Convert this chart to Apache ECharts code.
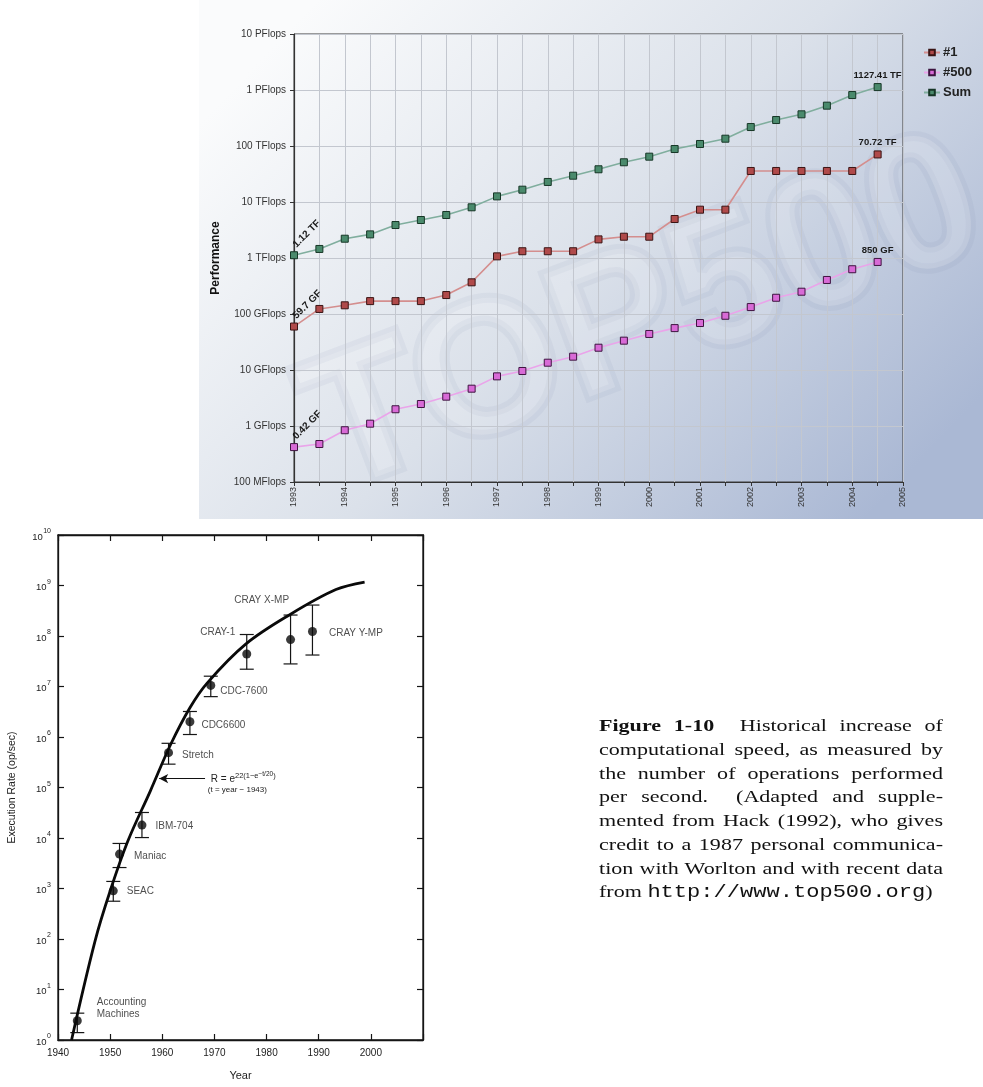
<!DOCTYPE html>
<html>
<head>
<meta charset="utf-8">
<title>Historical increase of computational speed</title>
<script src="https://cdn.jsdelivr.net/npm/echarts@6.0.0/dist/echarts.min.js"></script>
<style>
    body { margin: 0; padding: 0; background: #fff; overflow: hidden; }
    #chart { position: absolute; left: 0; top: 0; width: 983px; height: 1087px; }
    #caption {
        position: absolute; left: 599px; top: 714px; width: 273px;
        transform: scaleX(1.26); transform-origin: 0 0;
        font-family: "Liberation Serif", "Times New Roman", serif;
        font-size: 17.5px; line-height: 23.75px; color: #111;
    }
    #caption div { text-align: justify; text-align-last: justify; }
    #caption div.last { text-align: left; text-align-last: left; }
    #caption .mono { font-family: "Liberation Mono", "Courier New", monospace; }
</style>
</head>
<body>
<div id="chart"></div>
<div id="caption">
    <div><b>Figure 1-10</b>&nbsp; Historical increase of</div>
    <div>computational speed, as measured by</div>
    <div>the number of operations performed</div>
    <div>per second.&nbsp; (Adapted and supple-</div>
    <div>mented from Hack (1992), who gives</div>
    <div>credit to a 1987 personal communica-</div>
    <div>tion with Worlton and with recent data</div>
    <div class="last">from <span class="mono">http://www.top500.org</span>)</div>
</div>
<script>
// ---- TOP500 chart (values in GFlops) ----
const years = [1993, 1993.5, 1994, 1994.5, 1995, 1995.5, 1996, 1996.5, 1997, 1997.5, 1998, 1998.5,
               1999, 1999.5, 2000, 2000.5, 2001, 2001.5, 2002, 2002.5, 2003, 2003.5, 2004, 2004.5];
const rank1 = [59.7, 123, 143, 170, 170, 170, 218, 368, 1070, 1320, 1320, 1320,
               2150, 2400, 2400, 4970, 7290, 7290, 35800, 35800, 35800, 35800, 35800, 70720];
const rank500 = [0.42, 0.477, 0.84, 1.10, 1.99, 2.47, 3.34, 4.64, 7.7, 9.6, 13.5, 17.3,
                 25, 33.4, 44, 56, 69, 93, 133, 195, 250, 405, 630, 850];
const sumPerf = [1120, 1450, 2210, 2640, 3880, 4770, 5860, 8040, 12600, 16600, 22800, 29500,
                 38400, 51200, 64500, 88300, 108600, 135000, 218000, 291000, 368000, 525000, 813000, 1127410];
const seriesNames = ['#1', '#500', 'Sum'];
const firstLabels = ['59.7 GF', '0.42 GF', '1.12 TF'];
const lastLabels = ['70.72 TF', '850 GF', '1127.41 TF'];
const perfTickLabels = ['100 MFlops', '1 GFlops', '10 GFlops', '100 GFlops', '1 TFlops',
                        '10 TFlops', '100 TFlops', '1 PFlops', '10 PFlops'];

// ---- historical machines (op/sec) ----
const machineNames = ['Accounting\nMachines', 'SEAC', 'Maniac', 'IBM-704', 'Stretch',
                      'CDC6600', 'CDC-7600', 'CRAY-1', 'CRAY X-MP', 'CRAY Y-MP'];
const machineYears = [1943.7, 1950.6, 1951.8, 1956.1, 1961.2, 1965.3, 1969.3, 1976.2, 1984.6, 1988.8];
const machineRates = [2.4, 900, 4800, 18000, 4.9e5, 2.0e6, 1.05e7, 4.4e7, 8.5e7, 1.23e8];
const errLow = [1.4, 560, 2600, 10200, 2.9e5, 1.12e6, 6.3e6, 2.2e7, 2.8e7, 4.2e7];
const errHigh = [3.4, 1380, 7800, 32000, 7.5e5, 3.2e6, 1.6e7, 1.07e8, 2.6e8, 4.1e8];
// fitted curve
const curveYears = [1942.6, 1947.1, 1950.0, 1953.4, 1957.7, 1961.6, 1965.3, 1968.6, 1976.0, 1984.6, 1993.3, 1998.8];
const curveRates = [1, 91, 890, 8700, 85000, 7.1e5, 3.8e6, 1.17e7, 6.9e7, 2.7e8, 8.3e8, 1.17e9];

const fills = ['#b04a4a', '#d86ad6', '#4a8a6c'];
const borders = ['#3a1414', '#3e1440', '#163626'];
const lines = ['#d48e8e', '#eaa4ea', '#80ae9e'];

// where each machine label sits relative to its point
const machineLabelPos = {
    'Accounting\nMachines': { position: 'right', offset: [15, -13] },
    'SEAC': { position: 'right', offset: [9, 0] },
    'Maniac': { position: 'right', offset: [10, 2] },
    'IBM-704': { position: 'right', offset: [9, 1] },
    'Stretch': { position: 'right', offset: [9, 3] },
    'CDC6600': { position: 'right', offset: [7, 3] },
    'CDC-7600': { position: 'right', offset: [5, 6] },
    'CRAY-1': { position: 'left', offset: [-7, -22] },
    'CRAY X-MP': { position: 'left', offset: [3, -39] },
    'CRAY Y-MP': { position: 'right', offset: [12, 2] }
};

const chart = echarts.init(document.getElementById('chart'));

const sansFont = '"Liberation Sans", Arial, Helvetica, sans-serif';

function topSeries(vals, idx) {
    return {
        name: seriesNames[idx],
        type: 'line',
        xAxisIndex: 0,
        yAxisIndex: 0,
        symbol: 'rect',
        symbolSize: 7,
        z: 5 + idx,
        itemStyle: { color: fills[idx], borderColor: borders[idx], borderWidth: 1 },
        lineStyle: { color: lines[idx], width: 1.6 },
        emphasis: { disabled: true },
        data: years.map((y, i) => {
            const item = { value: [y, vals[i]] };
            if (i === 0) {
                item.label = {
                    show: true, formatter: firstLabels[idx], position: 'right', distance: 0,
                    offset: [4, -4],
                    rotate: 45, align: 'left', verticalAlign: 'bottom',
                    fontFamily: sansFont, fontWeight: 'bold', fontSize: 10, color: '#1a1a1a'
                };
            }
            if (i === years.length - 1) {
                item.label = {
                    show: true, formatter: lastLabels[idx], position: 'top', distance: 3,
                    fontFamily: sansFont, fontWeight: 'bold', fontSize: 9.5, color: '#1a1a1a'
                };
            }
            return item;
        })
    };
}

const supLabel = {
    base: { fontSize: 9.5, fontFamily: sansFont, color: '#222', lineHeight: 14, verticalAlign: 'bottom' },
    sup: { fontSize: 7, fontFamily: sansFont, color: '#222', lineHeight: 14, verticalAlign: 'top', padding: [0, 0, 0, 0.5] }
};

const option = {
    animation: false,
    graphic: [
        {
            type: 'rect', z: -100, silent: true,
            shape: { x: 199, y: 0, width: 784, height: 519 },
            style: {
                fill: new echarts.graphic.LinearGradient(0.15, 0, 0.85, 1, [
                    { offset: 0, color: '#fafbfc' },
                    { offset: 0.5, color: '#dbe1ea' },
                    { offset: 1, color: '#aab8d4' }
                ])
            }
        },
        {
            type: 'text', z: -90, silent: true,
            x: 645, y: 320, rotation: 0.36,
            style: {
                text: 'TOP500', align: 'center', verticalAlign: 'middle',
                fontSize: 190, fontWeight: 'bold', fontFamily: sansFont,
                fill: 'rgba(255,255,255,0.16)', stroke: 'rgba(120,130,160,0.08)', lineWidth: 10
            }
        }
    ],
    legend: {
        data: seriesNames,
        orient: 'vertical',
        left: 918,
        top: 41,
        itemWidth: 16,
        itemHeight: 7,
        itemGap: 7,
        textStyle: { fontFamily: sansFont, fontWeight: 'bold', fontSize: 13, color: '#222', padding: [0, 0, 0, -2] }
    },
    grid: [
        { left: 294, top: 34, width: 609, height: 448, show: true, borderColor: '#3a3a3a', borderWidth: 1, backgroundColor: 'transparent' },
        { left: 58, top: 535, width: 365, height: 505, show: true, borderColor: '#151515', borderWidth: 1.3, backgroundColor: 'transparent' }
    ],
    xAxis: [
        {
            gridIndex: 0, type: 'value', min: 1993, max: 2005, interval: 0.5,
            axisLine: { lineStyle: { color: '#333', width: 1.2 } },
            axisTick: { show: true, length: 4, lineStyle: { color: '#333' } },
            axisLabel: {
                rotate: 90, margin: 5, fontSize: 9, fontFamily: sansFont, color: '#333',
                formatter: v => (Math.abs(v - Math.round(v)) < 1e-6 ? String(Math.round(v)) : '')
            },
            splitLine: { show: true, lineStyle: { color: '#c3c7cf', width: 1 } }
        },
        {
            gridIndex: 1, type: 'value', min: 1940, max: 2010, interval: 10,
            axisLine: { lineStyle: { color: '#151515', width: 1.3 } },
            axisTick: { show: true, inside: true, length: 6, lineStyle: { color: '#151515', width: 1.2 } },
            axisLabel: {
                margin: 8, fontSize: 10, fontFamily: sansFont, color: '#222',
                formatter: v => (v >= 2010 ? '' : String(v))
            },
            splitLine: { show: false },
            name: 'Year', nameLocation: 'middle', nameGap: 30,
            nameTextStyle: { fontSize: 11, fontFamily: sansFont, color: '#222' }
        },
        {
            gridIndex: 1, type: 'value', min: 1940, max: 2010, interval: 10, position: 'top',
            axisLine: { lineStyle: { color: '#151515', width: 1.3 } },
            axisTick: { show: true, inside: true, length: 6, lineStyle: { color: '#151515', width: 1.2 } },
            axisLabel: { show: false },
            splitLine: { show: false }
        }
    ],
    yAxis: [
        {
            gridIndex: 0, type: 'log', logBase: 10, min: 0.1, max: 1e7, splitNumber: 8,
            axisLine: { show: true, lineStyle: { color: '#333', width: 1.2 } },
            axisTick: { show: true, length: 4, lineStyle: { color: '#333' } },
            axisLabel: {
                margin: 8, fontSize: 10, fontFamily: sansFont, color: '#333',
                formatter: v => perfTickLabels[Math.round(Math.log10(v)) + 1] || ''
            },
            splitLine: { show: true, lineStyle: { color: '#c3c7cf', width: 1 } },
            name: 'Performance', nameLocation: 'middle', nameGap: 72,
            nameTextStyle: { fontSize: 12, fontWeight: 'bold', fontFamily: sansFont, color: '#111' }
        },
        {
            gridIndex: 1, type: 'log', logBase: 10, min: 1, max: 1e10, interval: 1,
            axisLine: { show: true, lineStyle: { color: '#151515', width: 1.3 } },
            axisTick: { show: true, inside: true, length: 6, lineStyle: { color: '#151515', width: 1.2 } },
            axisLabel: {
                margin: 7, color: '#222',
                formatter: v => '{base|10}{sup|' + Math.round(Math.log10(v)) + '}',
                rich: supLabel
            },
            splitLine: { show: false },
            name: 'Execution Rate (op/sec)', nameLocation: 'middle', nameGap: 40,
            nameTextStyle: { fontSize: 10.5, fontFamily: sansFont, color: '#222' }
        },
        {
            gridIndex: 1, type: 'log', logBase: 10, min: 1, max: 1e10, interval: 1, position: 'right',
            axisLine: { show: true, lineStyle: { color: '#151515', width: 1.3 } },
            axisTick: { show: true, inside: true, length: 6, lineStyle: { color: '#151515', width: 1.2 } },
            axisLabel: { show: false },
            splitLine: { show: false }
        }
    ],
    series: [
        topSeries(rank1, 0),
        topSeries(rank500, 1),
        topSeries(sumPerf, 2),
        {
            name: 'curve',
            type: 'line',
            xAxisIndex: 1, yAxisIndex: 1,
            smooth: 0.35,
            symbol: 'none',
            lineStyle: { color: '#0a0a0a', width: 2.8 },
            data: curveYears.map((y, i) => [y, curveRates[i]]),
            markLine: {
                silent: true,
                symbol: ['none', 'arrow'],
                symbolSize: [7, 9],
                lineStyle: { color: '#111', width: 1.1, type: 'solid' },
                label: { show: false },
                data: [[{ coord: [1968.2, 1.5e5] }, { coord: [1959.4, 1.5e5] }]]
            },
            markPoint: {
                silent: true,
                symbol: 'circle', symbolSize: 0,
                data: [{ coord: [1969.3, 1.5e5] }],
                label: {
                    show: true, position: 'right', distance: 0, offset: [0, 4],
                    formatter: '{b|R = e}{s|22(1\u2212e}{ss|\u2212t/20}{s|)}\n{t|(t = year \u2212 1943)}',
                    rich: {
                        b: { fontSize: 10, fontFamily: sansFont, color: '#222', lineHeight: 14, verticalAlign: 'bottom' },
                        s: { fontSize: 7.5, fontFamily: sansFont, color: '#222', lineHeight: 14, verticalAlign: 'top', padding: [1, 0, 0, 0] },
                        ss: { fontSize: 6.5, fontFamily: sansFont, color: '#222', lineHeight: 14, verticalAlign: 'top' },
                        t: { fontSize: 8, fontFamily: sansFont, color: '#222', lineHeight: 10, padding: [0, 0, 0, -3] }
                    }
                }
            }
        },
        {
            name: 'errors',
            type: 'custom',
            xAxisIndex: 1, yAxisIndex: 1,
            silent: true,
            renderItem: (params, api) => {
                const x = api.value(0);
                const lo = api.coord([x, api.value(1)]);
                const hi = api.coord([x, api.value(2)]);
                const w = 7;
                const st = { stroke: '#151515', lineWidth: 1.2 };
                return {
                    type: 'group',
                    children: [
                        { type: 'line', shape: { x1: lo[0], y1: lo[1], x2: hi[0], y2: hi[1] }, style: st },
                        { type: 'line', shape: { x1: lo[0] - w, y1: lo[1], x2: lo[0] + w, y2: lo[1] }, style: st },
                        { type: 'line', shape: { x1: hi[0] - w, y1: hi[1], x2: hi[0] + w, y2: hi[1] }, style: st }
                    ]
                };
            },
            encode: { x: 0, y: [1, 2] },
            data: machineYears.map((y, i) => [y, errLow[i], errHigh[i]])
        },
        {
            name: 'machines',
            type: 'scatter',
            xAxisIndex: 1, yAxisIndex: 1,
            symbol: 'circle',
            symbolSize: 9,
            itemStyle: { color: '#0a0a0a' },
            z: 6,
            data: machineYears.map((y, i) => ({
                name: machineNames[i],
                value: [y, machineRates[i]],
                label: Object.assign({
                    show: true, distance: 0, formatter: '{b}',
                    fontSize: 10, fontFamily: sansFont, color: '#222', lineHeight: 12
                }, machineLabelPos[machineNames[i]])
            }))
        }
    ]
};

chart.setOption(option);
</script>
</body>
</html>
